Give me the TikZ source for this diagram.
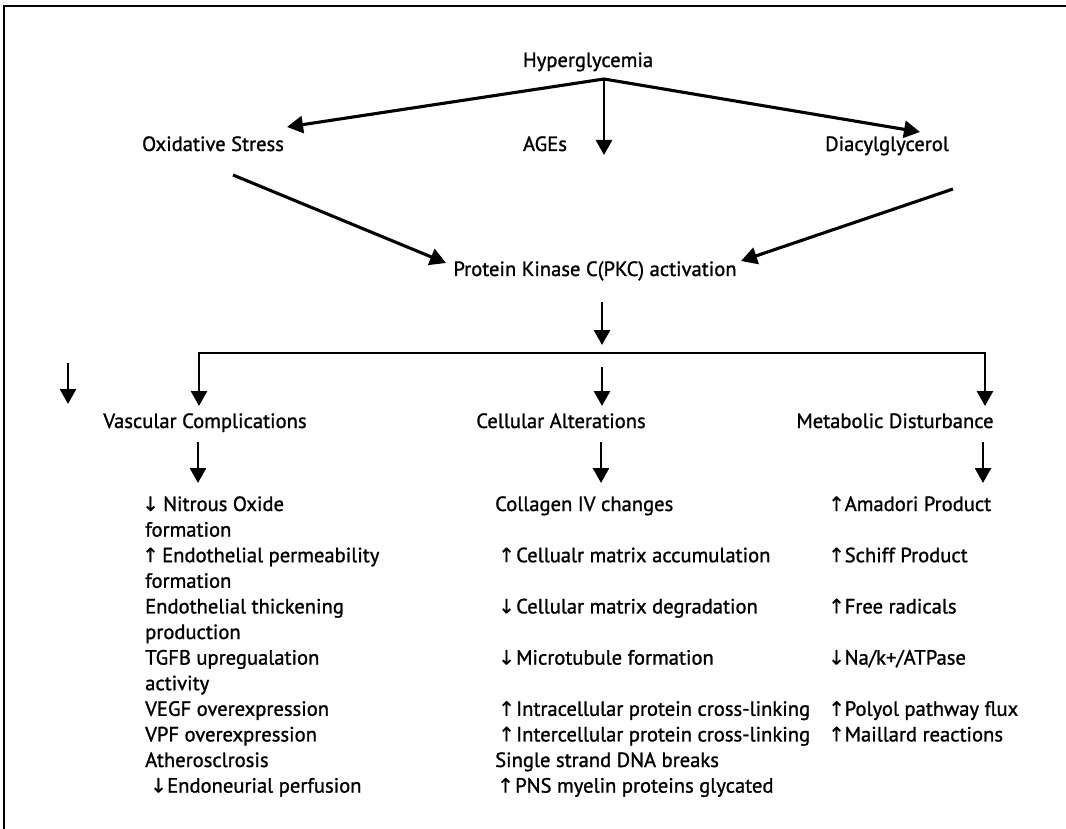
\documentclass[tikz,border=0pt]{standalone}
\usepackage{fontspec}
\setmainfont{PT Sans}[FakeBold=1.2]
\newfontfamily\arrfont{DejaVu Sans}[FakeBold=0.3]
\usetikzlibrary{arrows.meta}
\newcommand\myup[1]{\makebox[#1][l]{\arrfont\fontsize{20}{20}\selectfont ↑}}
\newcommand\mydn[1]{\makebox[#1][l]{\arrfont\fontsize{20}{20}\selectfont ↓}}
\begin{document}
\begin{tikzpicture}[x=1pt,y=-1pt,
  lbl/.style={font=\fontsize{20.6}{24}\selectfont, inner sep=0pt, anchor=base},
  item/.style={font=\fontsize{20.6}{24}\selectfont, inner sep=0pt, anchor=base west},
  arr/.style={draw=black, line width=2.7pt, -{Triangle[length=15pt,width=16pt]}},
  arrthick/.style={draw=black, line width=3.1pt, -{Triangle[length=16pt,width=17pt]}},
  bar/.style={draw=black, line width=2.7pt, {Triangle[length=15pt,width=16pt]}-{Triangle[length=15pt,width=16pt]}},
  frame/.style={draw=black, line width=2pt}]
\useasboundingbox (0,0) rectangle (1066,829);
% frame (top and left)
\coordinate (fA) at (4,829);
\coordinate (fB) at (4,6);
\coordinate (fC) at (1066,6);
\draw[frame] (fA) -- (fB) -- (fC);

% top level
\node[lbl] (hyp) at (588,67) {Hyperglycemia};
\node[lbl] (ox) at (213,151) {Oxidative Stress};
\node[lbl] (age) at (545,151) {AGEs};
\node[lbl] (dag) at (887,151) {Diacylglycerol};
\node[lbl] (pkc) at (595,276) {Protein Kinase C(PKC) activation};

\coordinate (apex) at (604,79);
\coordinate (oxT) at (287,127);
\coordinate (ageT) at (604,155);
\coordinate (dagT) at (920,132);
\draw[arrthick] (apex) -- (oxT);
\draw[arr] (apex) -- (ageT);
\draw[arrthick] (apex) -- (dagT);

\coordinate (oxS) at (233,175);
\coordinate (pkcL) at (446,263);
\coordinate (dagS) at (953,189);
\coordinate (pkcR) at (741,261);
\draw[arrthick] (oxS) -- (pkcL);
\draw[arrthick] (dagS) -- (pkcR);

% PKC down
\coordinate (pkcA) at (602,302);
\coordinate (pkcB) at (602,345);
\draw[arr] (pkcA) -- (pkcB);

% bar
\coordinate (barL) at (199,353);
\coordinate (barR) at (985,353);
\coordinate (vasT) at (199,406);
\coordinate (metT) at (985,406);
\draw[bar, line join=miter] (vasT) -- (barL) -- (barR) -- (metT);
\coordinate (celA) at (602,367);
\coordinate (celT) at (602,406);
\draw[arr] (celA) -- (celT);
\coordinate (strayA) at (68,363);
\coordinate (strayB) at (68,404);
\draw[arr] (strayA) -- (strayB);

% second level
\node[lbl] (vas) at (205,428) {Vascular Complications};
\node[lbl] (cel) at (561,428) {Cellular Alterations};
\node[lbl] (met) at (895,428) {Metabolic Disturbance};

\coordinate (vasA) at (198,442);
\coordinate (vasB) at (198,483);
\coordinate (celB) at (601,442);
\coordinate (celC) at (601,483);
\coordinate (metA) at (983,442);
\coordinate (metB) at (983,483);
\draw[arr] (vasA) -- (vasB);
\draw[arr] (celB) -- (celC);
\draw[arr] (metA) -- (metB);

% vascular list
\node[item] (v1) at (142,511) {\mydn{21pt}Nitrous Oxide};
\node[item] (v2) at (145,536.6) {formation};
\node[item] (v3) at (142,562.2) {\myup{20pt}Endothelial permeability};
\node[item] (v4) at (145,587.8) {formation};
\node[item] (v5) at (145,613.4) {Endothelial thickening};
\node[item] (v6) at (145,639) {production};
\node[item] (v7) at (145,664.6) {TGFB upregualation};
\node[item] (v8) at (145,690.2) {activity};
\node[item] (v9) at (145,715.8) {VEGF overexpression};
\node[item] (v10) at (145,741.4) {VPF overexpression};
\node[item] (v11) at (145,767) {Atherosclrosis};
\node[item] (v12) at (150,792.6) {\mydn{17pt}Endoneurial perfusion};

% cellular list
\node[item] (c1) at (495,511) {Collagen IV changes};
\node[item] (c2) at (498,562.2) {\myup{18pt}Cellualr matrix accumulation};
\node[item] (c3) at (498,613.4) {\mydn{18pt}Cellular matrix degradation};
\node[item] (c4) at (498,664.6) {\mydn{18pt}Microtubule formation};
\node[item] (c5) at (498,715.8) {\myup{18pt}Intracellular protein cross-linking};
\node[item] (c6) at (498,741.4) {\myup{18pt}Intercellular protein cross-linking};
\node[item] (c7) at (495,767) {Single strand DNA breaks};
\node[item] (c8) at (497,792.6) {\myup{18pt}PNS myelin proteins glycated};

% metabolic list
\node[item] (m1) at (828,511) {\myup{16.5pt}Amadori Product};
\node[item] (m2) at (828,562.2) {\myup{16.5pt}Schiff Product};
\node[item] (m3) at (828,613.4) {\myup{16.5pt}Free radicals};
\node[item] (m4) at (828,664.6) {\mydn{16.5pt}Na/k+/ATPase};
\node[item] (m5) at (828,715.8) {\myup{16.5pt}Polyol pathway flux};
\node[item] (m6) at (828,741.4) {\myup{16.5pt}Maillard reactions};
\end{tikzpicture}
\end{document}
